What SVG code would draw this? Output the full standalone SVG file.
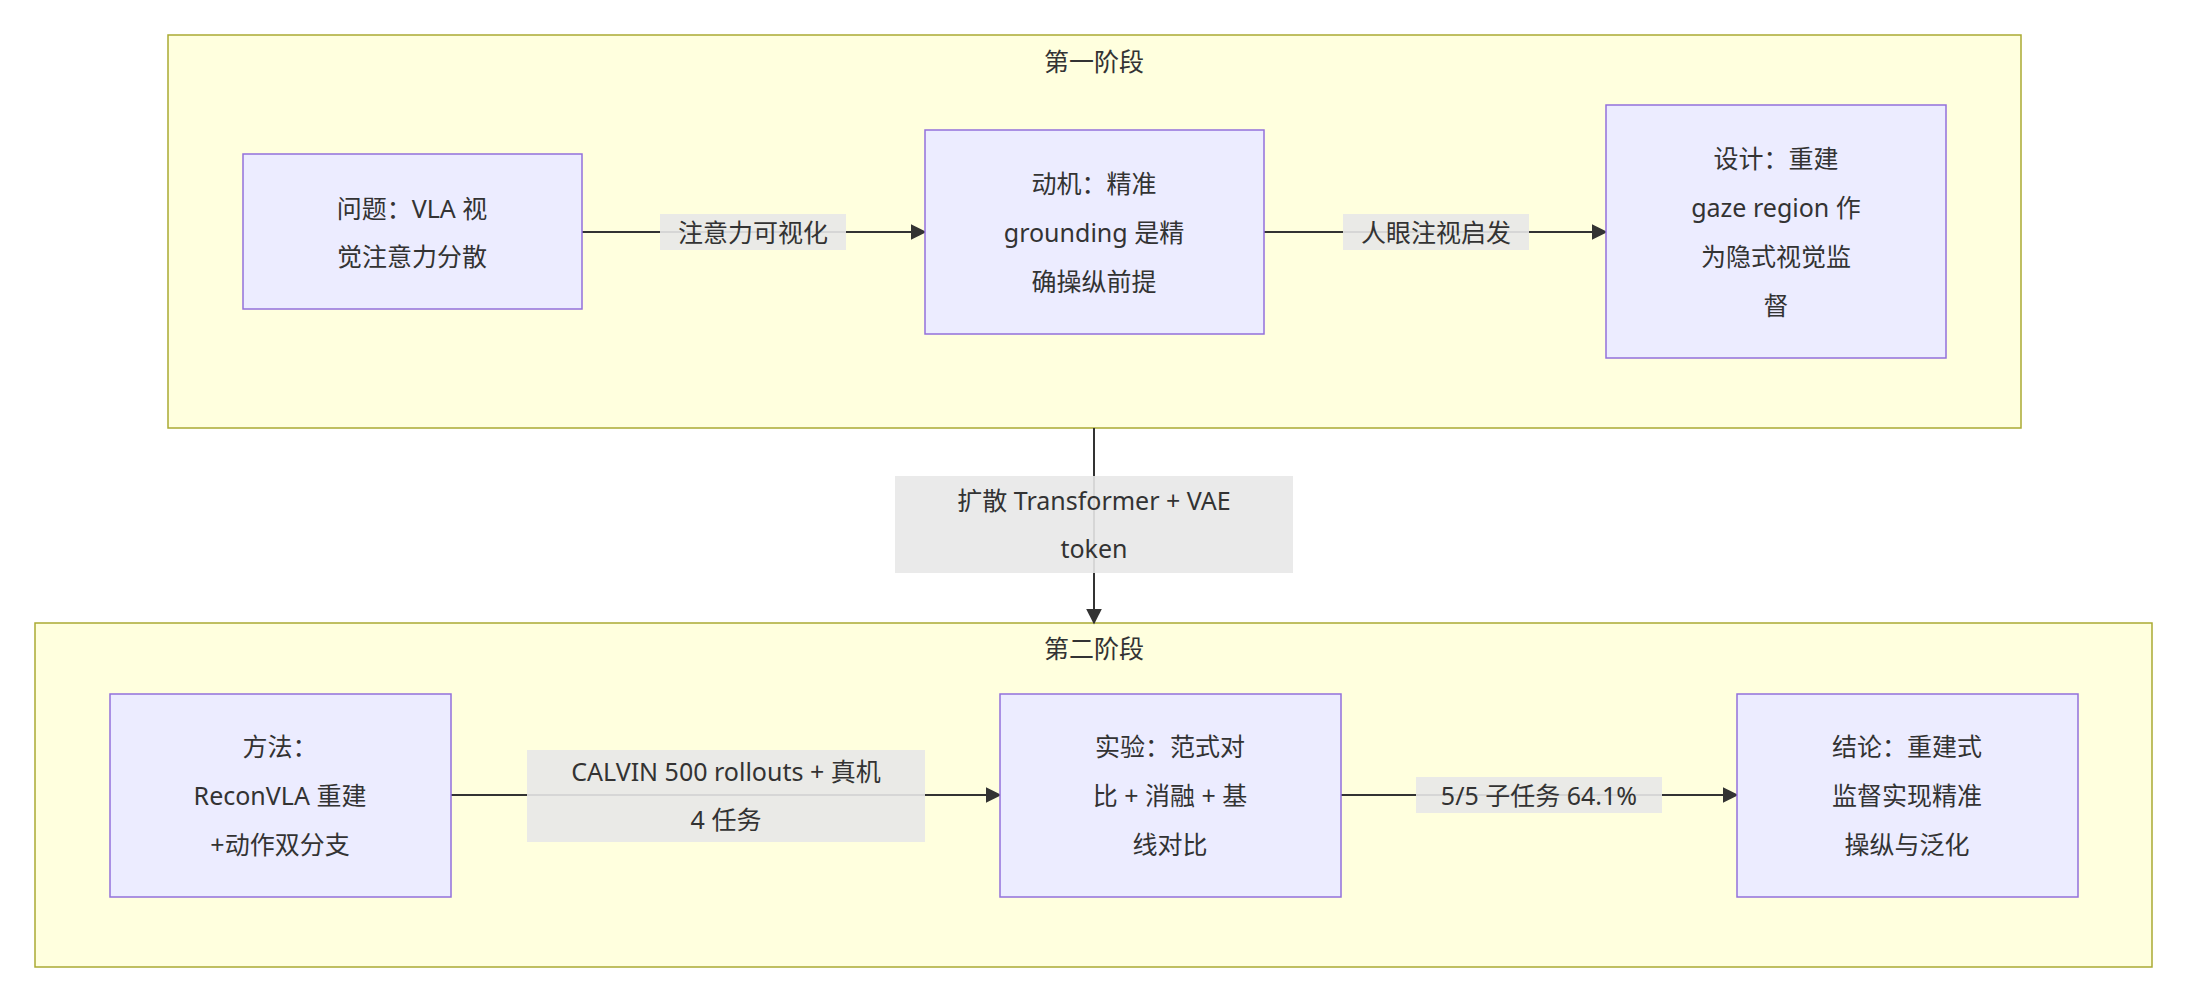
<svg xmlns="http://www.w3.org/2000/svg" width="2190" height="1004" viewBox="0 0 2190 1004">
<defs>
<style>
text{font-family:"Noto Sans","Noto Sans CJK SC",sans-serif;font-size:25px;fill:#333;text-anchor:middle;dominant-baseline:central}
.cl{fill:#ffffde;stroke:#aaaa33;stroke-width:1.5}
.nd{fill:#ececff;stroke:#9370db;stroke-width:1.5}
.lb{fill:#e8e8e8;opacity:0.9}
.e{stroke:#333;stroke-width:2;fill:none;marker-end:url(#ar)}
</style>
<marker id="ar" viewBox="0 0 10 10" refX="9" refY="5" markerWidth="8" markerHeight="8" orient="auto"><path d="M0,0L10,5L0,10z" fill="#333"/></marker>
</defs>
<rect width="2190" height="1004" fill="#fff"/>
<g id="stage1"><rect class="cl" x="168" y="35" width="1853" height="393"/><text x="1094" y="61">第一阶段</text></g>
<g id="stage2"><rect class="cl" x="35" y="623" width="2117" height="344"/><text x="1094" y="648">第二阶段</text></g>
<g id="edges">
<path class="e" d="M582,232H925"/>
<rect class="lb" x="660" y="214" width="186" height="36"/><text x="753" y="232">注意力可视化</text>
<path class="e" d="M1264,232H1606"/>
<rect class="lb" x="1343" y="214" width="186" height="36"/><text x="1436" y="232">人眼注视启发</text>
<path class="e" d="M1094,428V623"/>
<rect class="lb" x="895" y="476" width="398" height="97"/><text x="1094" y="500">扩散 Transformer + VAE</text><text x="1094" y="548">token</text>
<path class="e" d="M451,795H1000"/>
<rect class="lb" x="527" y="750" width="398" height="92"/><text x="726" y="771">CALVIN 500 rollouts + 真机</text><text x="726" y="819">4 任务</text>
<path class="e" d="M1341,795H1737"/>
<rect class="lb" x="1416" y="777" width="246" height="36"/><text x="1539" y="795">5/5 子任务 64.1%</text>
</g>
<g id="A"><rect class="nd" x="243" y="154" width="339" height="155"/><text x="412" y="208">问题：VLA 视</text><text x="412" y="256">觉注意力分散</text></g>
<g id="B"><rect class="nd" x="925" y="130" width="339" height="204"/><text x="1094" y="183">动机：精准</text><text x="1094" y="232">grounding 是精</text><text x="1094" y="281">确操纵前提</text></g>
<g id="C"><rect class="nd" x="1606" y="105" width="340" height="253"/><text x="1776" y="158">设计：重建</text><text x="1776" y="207">gaze region 作</text><text x="1776" y="256">为隐式视觉监</text><text x="1776" y="305">督</text></g>
<g id="D"><rect class="nd" x="110" y="694" width="341" height="203"/><text x="280" y="746">方法：</text><text x="280" y="795">ReconVLA 重建</text><text x="280" y="844">+动作双分支</text></g>
<g id="E"><rect class="nd" x="1000" y="694" width="341" height="203"/><text x="1170" y="746">实验：范式对</text><text x="1170" y="795">比 + 消融 + 基</text><text x="1170" y="844">线对比</text></g>
<g id="F"><rect class="nd" x="1737" y="694" width="341" height="203"/><text x="1907" y="746">结论：重建式</text><text x="1907" y="795">监督实现精准</text><text x="1907" y="844">操纵与泛化</text></g>
</svg>
